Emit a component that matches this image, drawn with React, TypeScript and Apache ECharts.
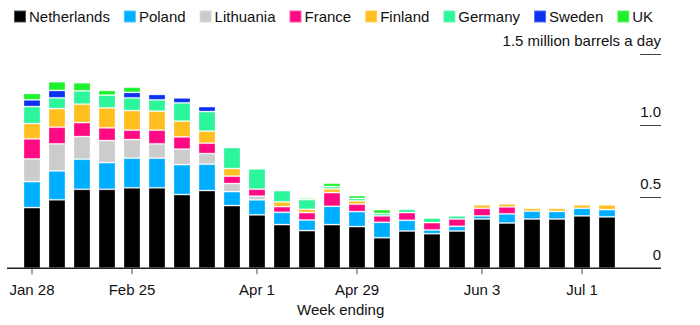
import React, { useEffect, useRef } from "react";
import * as echarts from "echarts";

const weeks = [
  "Jan 28", "Feb 4", "Feb 11", "Feb 18", "Feb 25", "Mar 4", "Mar 11", "Mar 18",
  "Mar 25", "Apr 1", "Apr 8", "Apr 15", "Apr 22", "Apr 29", "May 6", "May 13",
  "May 20", "May 27", "Jun 3", "Jun 10", "Jun 17", "Jun 24", "Jul 1", "Jul 8",
];
const labeledWeeks = ["Jan 28", "Feb 25", "Apr 1", "Apr 29", "Jun 3", "Jul 1"];

const netherlands = [0.425, 0.479, 0.553, 0.553, 0.563, 0.563, 0.516, 0.544, 0.439, 0.374, 0.306, 0.264, 0.306, 0.292, 0.214, 0.261, 0.242, 0.261, 0.345, 0.317, 0.345, 0.345, 0.367, 0.36];
const poland = [0.182, 0.203, 0.211, 0.187, 0.208, 0.208, 0.21, 0.185, 0.098, 0.105, 0.086, 0.074, 0.128, 0.105, 0.108, 0.075, 0.026, 0.033, 0.022, 0.064, 0.055, 0.053, 0.053, 0.051];
const lithuania = [0.159, 0.189, 0.158, 0.154, 0.13, 0.1, 0.108, 0.074, 0.056, 0.026, 0, 0, 0, 0, 0, 0, 0, 0, 0, 0, 0, 0, 0, 0];
const france = [0.14, 0.117, 0.098, 0.089, 0.066, 0.096, 0.086, 0.073, 0.052, 0.049, 0.04, 0.052, 0.096, 0.052, 0.045, 0.054, 0.052, 0.051, 0.053, 0.049, 0, 0, 0, 0];
const finland = [0.107, 0.13, 0.129, 0.14, 0.137, 0.133, 0.11, 0.084, 0.053, 0, 0.033, 0.023, 0.026, 0.023, 0, 0, 0, 0, 0.024, 0.021, 0.02, 0.022, 0.024, 0.033];
const germany = [0.119, 0.075, 0.093, 0.089, 0.089, 0.079, 0.128, 0.137, 0.147, 0.142, 0.079, 0.068, 0.016, 0.017, 0.016, 0.023, 0.032, 0.022, 0, 0, 0, 0, 0, 0];
const sweden = [0.047, 0.052, 0, 0, 0.038, 0.038, 0.035, 0.035, 0, 0, 0, 0, 0, 0, 0, 0, 0, 0, 0, 0, 0, 0, 0, 0];
const uk = [0.045, 0.061, 0.057, 0.033, 0.037, 0, 0, 0, 0, 0, 0, 0.01, 0.024, 0.02, 0.028, 0, 0, 0, 0, 0, 0, 0, 0, 0];

const seriesNames = ["Netherlands", "Poland", "Lithuania", "France", "Finland", "Germany", "Sweden", "UK"];
const seriesData = [netherlands, poland, lithuania, france, finland, germany, sweden, uk];
const seriesColors = ["#000000", "#00aeff", "#cccccc", "#ff0a82", "#ffbf1f", "#2df59b", "#0a32f0", "#1ff02d"];

const yTicks = [0, 0.5, 1.0, 1.5];
const yTickLabels = ["0", "0.5", "1.0", "1.5 million barrels a day"];

const FONT = "'Liberation Sans', Arial, sans-serif";

export default function App() {
  const ref = useRef<HTMLDivElement>(null);
  useEffect(() => {
    if (!ref.current) return;
    const chart = echarts.init(ref.current, null, { renderer: "svg" });
    const isLabeled = (i: number) => labeledWeeks.includes(weeks[i]);
    chart.setOption({
      animation: false,
      textStyle: { fontFamily: FONT },
      legend: {
        left: 8,
        top: 4,
        itemWidth: 12,
        itemHeight: 12,
        itemGap: 13,
        icon: "rect",
        textStyle: { fontSize: 15, color: "#111", fontFamily: FONT, padding: [0, 0, 0, -2] },
        data: seriesNames,
      },
      grid: { left: 19.5, right: 80.5, top: 54, bottom: 56.7, containLabel: false },
      xAxis: {
        type: "category",
        data: weeks,
        axisLine: { show: false },
        axisTick: {
          show: true,
          alignWithLabel: true,
          interval: (i: number) => isLabeled(i),
          length: 6,
          lineStyle: { color: "#888", width: 1.5 },
        },
        axisLabel: {
          interval: (i: number) => isLabeled(i),
          margin: 14,
          fontSize: 15,
          color: "#111",
          fontFamily: FONT,
        },
      },
      yAxis: {
        type: "value",
        position: "right",
        offset: 41.5,
        min: 0,
        max: 1.5,
        interval: 0.5,
        splitLine: { show: false },
        axisLine: { show: false },
        axisTick: { show: true, inside: true, length: 21, lineStyle: { color: "#444", width: 1 } },
        axisLabel: {
          align: "right",
          verticalAlign: "bottom",
          margin: 0,
          padding: [0, 0, 6, 0],
          fontSize: 15,
          color: "#111",
          fontFamily: FONT,
          formatter: (v: number) => {
            const idx = yTicks.findIndex((t) => Math.abs(t - v) < 1e-6);
            return idx >= 0 ? yTickLabels[idx] : "";
          },
        },
      },
      graphic: [
        {
          type: "line",
          z: 100,
          shape: { x1: 7, y1: 268.3, x2: 661, y2: 268.3 },
          style: { stroke: "#222", lineWidth: 1.5 },
        },
        {
          type: "text",
          left: 297,
          top: 302,
          style: { text: "Week ending", fontSize: 15, fill: "#111", fontFamily: FONT },
        },
      ],
      series: seriesNames.map((name, si) => ({
        name,
        type: "bar",
        stack: "total",
        barWidth: 17,
        itemStyle: { color: seriesColors[si], borderColor: "rgba(255,255,255,0.3)", borderWidth: 1 },
        data: seriesData[si].map((v) => (v > 0 ? v : "-")),
      })),
    });
    return () => chart.dispose();
  }, []);
  return (
    <div
      ref={ref}
      style={{ position: "fixed", left: 0, top: 0, width: 700, height: 325, background: "#fff" }}
    />
  );
}
